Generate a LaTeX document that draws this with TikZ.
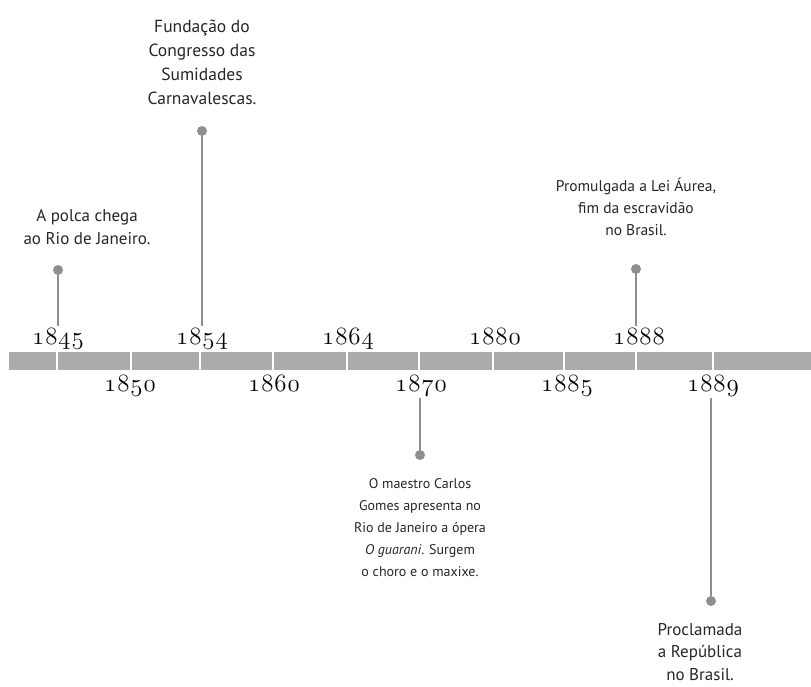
\documentclass[tikz,border=0pt]{standalone}
\usepackage{fontspec}
\newfontfamily\notefont{PT Sans}
\usetikzlibrary{positioning}
\definecolor{barfill}{HTML}{ABABAB}
\definecolor{stemgray}{HTML}{8E8E8E}
\newcommand\bartop{352}
\newcommand\barbot{370}
\newcommand\upbase{344}
\newcommand\lowbase{391}
\newcommand\yearfont{\usefont{OML}{cmm}{m}{it}\fontsize{24}{26}\selectfont}
\newcommand\yr[4]{#1\kern1pt#2\kern1pt#3\kern1pt#4}

\begin{document}
\begin{tikzpicture}[x=1pt,y=-1pt,
    yearlabel/.style={font=\yearfont,inner sep=2pt,anchor=base},
    event/.style 2 args={font=\notefont\fontsize{#1}{#2}\selectfont,align=center,inner sep=0pt,text=black!85},
    eventdot/.style={circle,fill=stemgray,inner sep=0pt,minimum size=10pt},
    stem/.style={draw=stemgray,line width=1.3pt}]
    \useasboundingbox (0,0) rectangle (811,686);

    % the bar, cut in pieces
    \fill[barfill] (9,\bartop) rectangle (811,\barbot);
    \foreach \x in {57,131,200,273,347,419,493,564,636,713}
      \draw[white,line width=1.5pt] (\x,\bartop) -- (\x,\barbot);

    % years over the bar
    \node[yearlabel] (y1845) at (58,\upbase) {\yr1845};
    \node[yearlabel] (y1854) at (202,\upbase) {\yr1854};
    \node[yearlabel] (y1864) at (348,\upbase) {\yr1864};
    \node[yearlabel] (y1880) at (495,\upbase) {\yr1880};
    \node[yearlabel] (y1888) at (639,\upbase) {\yr1888};

    % years under the bar
    \node[yearlabel] (y1850) at (130,\lowbase) {\yr1850};
    \node[yearlabel] (y1860) at (274,\lowbase) {\yr1860};
    \node[yearlabel] (y1870) at (421,\lowbase) {\yr1870};
    \node[yearlabel] (y1885) at (567,\lowbase) {\yr1885};
    \node[yearlabel] (y1889) at (713,\lowbase) {\yr1889};

    % events above
    \node[eventdot] (d1845) at (58,270) {};
    \node[eventdot] (d1854) at (202,131) {};
    \node[eventdot] (d1888) at (636,269) {};
    \draw[stem] (d1845) -- (d1845 |- y1845.north);
    \draw[stem] (d1854) -- (d1854 |- y1854.north);
    \draw[stem] (d1888) -- (d1888 |- y1888.north);

    \node[event={17}{23},above=20pt of d1845,xshift=29pt] (t1845)
      {A polca chega\\ao Rio de Janeiro.};
    \node[event={17.5}{24},above=21pt of d1854] (t1854)
      {Fundação do\\Congresso das\\Sumidades\\Carnavalescas.};
    \node[event={15.5}{22},above=28pt of d1888] (t1888)
      {Promulgada a Lei Áurea,\\fim da escravidão\\no Brasil.};

    % events below
    \node[eventdot] (d1870) at (420,455) {};
    \node[eventdot] (d1889) at (711,601) {};
    \draw[stem] (d1870 |- y1870.south) -- (d1870);
    \draw[stem] (d1889 |- y1889.south) -- (d1889);

    \node[event={14}{22},below=18pt of d1870] (t1870)
      {O maestro Carlos\\Gomes apresenta no\\Rio de Janeiro a ópera\\\textit{O guarani}. Surgem\\o choro e o maxixe.};
    \node[event={17}{22.5},below=17pt of d1889,xshift=-11pt] (t1889)
      {Proclamada\\a República\\no Brasil.};
  \end{tikzpicture}
\end{document}
